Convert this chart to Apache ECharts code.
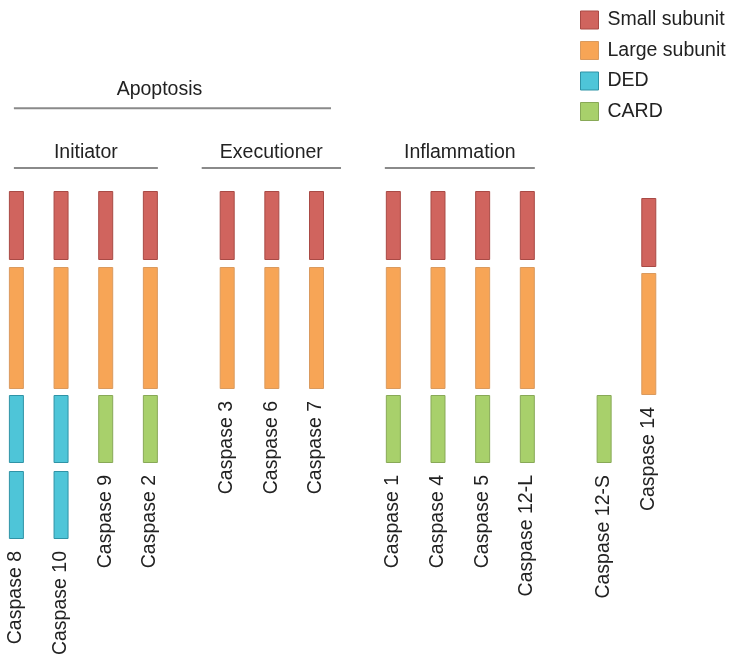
<!DOCTYPE html>
<html><head><meta charset="utf-8">
<script src="https://cdn.jsdelivr.net/npm/echarts@6/dist/echarts.min.js"></script>
<style>html,body{margin:0;padding:0;background:#fff}#c{width:732px;height:658px}</style>
</head><body><div id="c"></div>
<script>
// ---- data ----
const caspases = ['Caspase 8','Caspase 10','Caspase 9','Caspase 2','Caspase 3','Caspase 6','Caspase 7','Caspase 1','Caspase 4','Caspase 5','Caspase 12-L','Caspase 12-S','Caspase 14'];
const clusters = [0,0,0,0,1,1,1,2,2,2,2,3,3];
// domain segments: [caspase, start, end] (relative position along the protein drawing)
const smallSubunit = [
  ['Caspase 8',0,69],['Caspase 10',0,69],['Caspase 9',0,69],['Caspase 2',0,69],
  ['Caspase 3',0,69],['Caspase 6',0,69],['Caspase 7',0,69],
  ['Caspase 1',0,69],['Caspase 4',0,69],['Caspase 5',0,69],['Caspase 12-L',0,69],
  ['Caspase 14',7,76]
];
const largeSubunit = [
  ['Caspase 8',76,198],['Caspase 10',76,198],['Caspase 9',76,198],['Caspase 2',76,198],
  ['Caspase 3',76,198],['Caspase 6',76,198],['Caspase 7',76,198],
  ['Caspase 1',76,198],['Caspase 4',76,198],['Caspase 5',76,198],['Caspase 12-L',76,198],
  ['Caspase 14',82,204]
];
const ded = [
  ['Caspase 8',204,272],['Caspase 8',280,348],
  ['Caspase 10',204,272],['Caspase 10',280,348]
];
const card = [
  ['Caspase 9',204,272],['Caspase 2',204,272],
  ['Caspase 1',204,272],['Caspase 4',204,272],['Caspase 5',204,272],['Caspase 12-L',204,272],
  ['Caspase 12-S',204,272]
];
const subGroups = [['Initiator','Caspase 8','Caspase 2'],['Executioner','Caspase 3','Caspase 7'],['Inflammation','Caspase 1','Caspase 12-L']];
const superGroups = [['Apoptosis','Caspase 8','Caspase 7']];

// ---- layout constants ----
const GAP = 0.72;
const FONT = 'Liberation Sans, Arial, Helvetica, sans-serif';
const FS = 19.5;
const BAR_W = 15;
const xPos = caspases.map((c,i)=> i + GAP*clusters[i]);
const posOf = name => xPos[caspases.indexOf(name)];

const domainStyles = {
  'Small subunit': {fill:'#D0645E', stroke:'#A94A45'},
  'Large subunit': {fill:'#F7A556', stroke:'#DA9A5E'},
  'DED': {fill:'#4EC5D8', stroke:'#2F93A6'},
  'CARD': {fill:'#A8D06B', stroke:'#88A957'}
};

function domainSeries(name, segs){
  const st = domainStyles[name];
  return {
    type:'custom', name, clip:false,
    itemStyle:{color:st.fill, borderColor:st.stroke, borderWidth:1},
    data: segs.map(s=>[posOf(s[0]), s[1], s[2]]),
    encode:{x:0, y:[1,2]},
    renderItem(params, api){
      const a = api.coord([api.value(0), api.value(1)]);
      const b = api.coord([api.value(0), api.value(2)]);
      return {type:'rect', shape:{x:a[0]-BAR_W/2+0.5, y:a[1]+0.5, width:BAR_W-1, height:b[1]-a[1]-1},
        style:{fill:st.fill, stroke:st.stroke, lineWidth:1}};
    }
  };
}

// label positions: end of each column
const allSegs = [].concat(smallSubunit, largeSubunit, ded, card);
const labelData = caspases.map((c,i)=>[xPos[i], Math.max(...allSegs.filter(s=>s[0]===c).map(s=>s[2])), c]);

const groupPads = {Initiator:[-5,0], Executioner:[18,17], Inflammation:[1,0], Apoptosis:[-5,7]};

const chart = echarts.init(document.getElementById('c'), null, {renderer:'canvas'});
chart.setOption({
  animation:false,
  backgroundColor:'#fff',
  grid:{left:0, right:0, top:191, bottom:119},
  xAxis:{type:'value', min:-0.367, max:16.023, show:false},
  yAxis:{type:'value', min:0, max:348, inverse:true, show:false},
  legend:{
    orient:'vertical', left:580, top:10, padding:0, itemWidth:18, itemHeight:18, itemGap:10.5,
    icon:'rect',
    textStyle:{fontFamily:FONT, fontSize:FS, color:'#222', padding:[0,0,0,4]},
    data: Object.keys(domainStyles).map(n=>({name:n, itemStyle:{color:domainStyles[n].fill, borderColor:domainStyles[n].stroke, borderWidth:1}}))
  },
  series:[
    domainSeries('Small subunit', smallSubunit),
    domainSeries('Large subunit', largeSubunit),
    domainSeries('DED', ded),
    domainSeries('CARD', card),
    {
      type:'custom', name:'labels', clip:false, silent:true,
      data: labelData,
      renderItem(params, api){
        const p = api.coord([api.value(0), api.value(1)]);
        return {type:'text', x:p[0]-0.5, y:p[1]+12, rotation:Math.PI/2,
          style:{text:labelData[params.dataIndex][2], fontFamily:FONT, fontSize:FS, fill:'#222', align:'right', verticalAlign:'middle'}};
      }
    },
    {
      type:'custom', name:'groups', clip:false, silent:true,
      data: subGroups.map(g=>[posOf(g[1]), posOf(g[2]), 0]).concat(superGroups.map(g=>[posOf(g[1]), posOf(g[2]), 1])),
      renderItem(params, api){
        const all = subGroups.concat(superGroups);
        const g = all[params.dataIndex];
        const lvl = api.value(2);
        const a = api.coord([api.value(0), 0]);
        const b = api.coord([api.value(1), 0]);
        const pad = groupPads[g[0]];
        const x1 = a[0]-BAR_W/2-pad[0], x2 = b[0]+BAR_W/2+pad[1];
        const y = lvl===0 ? a[1]-23 : a[1]-82.7;
        const tx = (x1+x2)/2 + (lvl===1 ? -13 : 0);
        return {type:'group', children:[
          {type:'line', shape:{x1, y1:y, x2, y2:y}, style:{stroke:'#8a8a8a', lineWidth:2}},
          {type:'text', x:tx, y: y - (lvl===0 ? 15 : 18.5), style:{text:g[0], fontFamily:FONT, fontSize:FS, fill:'#222', align:'center', verticalAlign:'middle'}}
        ]};
      }
    }
  ]
});
</script></body></html>
